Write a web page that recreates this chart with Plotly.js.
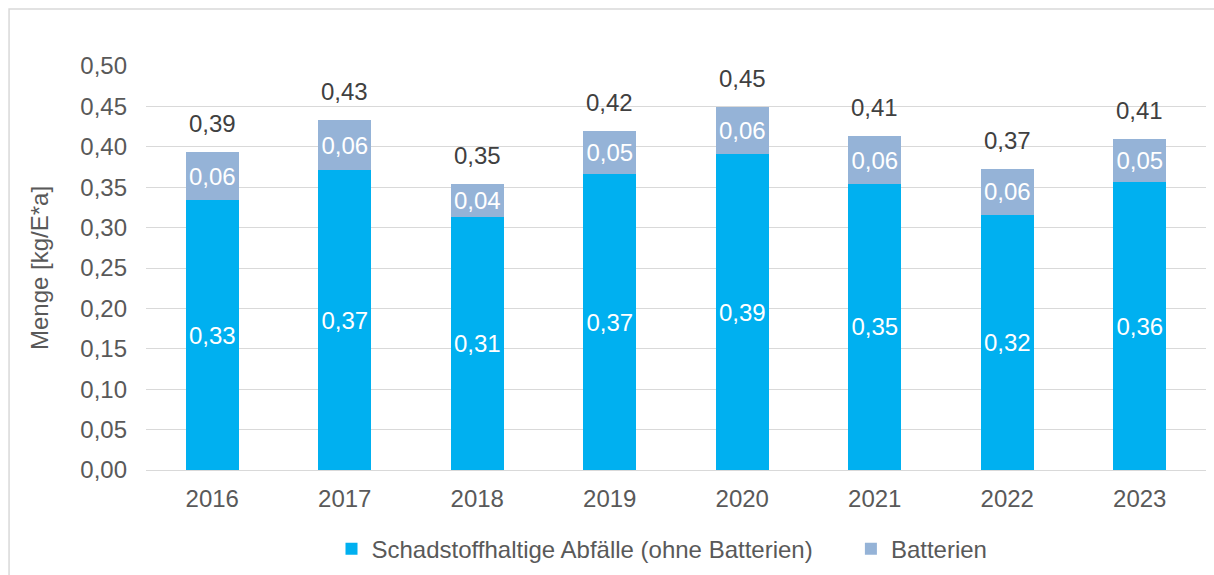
<!DOCTYPE html>
<html>
<head>
<meta charset="utf-8">
<script src="https://cdn.plot.ly/plotly-3.0.1.min.js"></script>
<style>
  html, body { margin: 0; padding: 0; background: #ffffff; }
  #chart { width: 1214px; height: 575px; }
</style>
</head>
<body>
<div id="chart"></div>
<script>
const years = ['2016', '2017', '2018', '2019', '2020', '2021', '2022', '2023'];
const schadstoffValues = [0.334, 0.371, 0.313, 0.366, 0.391, 0.354, 0.316, 0.356];
const batterienValues = [0.059, 0.062, 0.041, 0.054, 0.058, 0.059, 0.057, 0.054];
const seriesNames = ['Schadstoffhaltige Abfälle (ohne Batterien)', 'Batterien'];
const yTitle = 'Menge [kg/E*a]';

const fmt = v => v.toFixed(2).replace('.', ',');
const totals = schadstoffValues.map((v, i) => v + batterienValues[i]);

const fontFamily = 'Liberation Sans, Arial, sans-serif';
const fs = 24;

const traces = [
  {
    type: 'bar',
    name: seriesNames[0],
    x: years,
    y: schadstoffValues,
    marker: { color: '#00B0F0' },
    text: schadstoffValues.map(fmt),
    textposition: 'inside',
    insidetextanchor: 'middle',
    constraintext: 'none',
    textfont: { family: fontFamily, size: fs, color: '#FFFFFF' },
    legend: 'legend'
  },
  {
    type: 'bar',
    name: seriesNames[1],
    x: years,
    y: batterienValues,
    marker: { color: '#95B3D7' },
    text: batterienValues.map(fmt),
    textposition: 'inside',
    insidetextanchor: 'middle',
    constraintext: 'none',
    textfont: { family: fontFamily, size: fs, color: '#FFFFFF' },
    legend: 'legend2'
  }
];

// annotation x uses the category serial number (index) on the category axis
const annotations = years.map((yr, i) => ({
  x: i,
  y: totals[i],
  xref: 'x',
  yref: 'y',
  text: fmt(totals[i]),
  showarrow: false,
  yanchor: 'bottom',
  yshift: 13,
  font: { family: fontFamily, size: fs, color: '#404040' }
}));

const legendBase = {
  orientation: 'h',
  xanchor: 'left',
  y: -0.196,
  yanchor: 'middle',
  bgcolor: 'rgba(0,0,0,0)',
  font: { family: fontFamily, size: fs, color: '#595959' }
};

const layout = {
  width: 1214,
  height: 575,
  margin: { l: 146, r: 8, t: 66, b: 105, pad: 0, autoexpand: false },
  paper_bgcolor: '#FFFFFF',
  plot_bgcolor: '#FFFFFF',
  separators: ',.',
  barmode: 'stack',
  bargap: 0.6,
  font: { family: fontFamily, size: fs, color: '#595959' },
  showlegend: true,
  legend: Object.assign({}, legendBase, { x: 0.175 }),
  legend2: Object.assign({}, legendBase, { x: 0.665 }),
  xaxis: {
    type: 'category',
    showgrid: false,
    showline: true,
    linecolor: '#D9D9D9',
    linewidth: 1,
    ticks: '',
    ticklabelstandoff: 7,
    tickfont: { family: fontFamily, size: fs, color: '#595959' },
    automargin: false
  },
  yaxis: {
    range: [0, 0.5],
    dtick: 0.05,
    tick0: 0,
    tickformat: '.2f',
    showgrid: true,
    gridcolor: '#D9D9D9',
    gridwidth: 1,
    zeroline: false,
    showline: false,
    ticks: '',
    ticklabelstandoff: 18,
    tickfont: { family: fontFamily, size: fs, color: '#595959' },
    title: { text: yTitle, font: { family: fontFamily, size: fs, color: '#595959' }, standoff: 24 },
    automargin: false
  },
  shapes: [
    {
      type: 'rect',
      xref: 'paper',
      yref: 'paper',
      x0: -0.1292,
      x1: 1.2,
      y0: -0.6,
      y1: 1.141,
      line: { color: '#D9D9D9', width: 1.5 },
      fillcolor: 'rgba(0,0,0,0)',
      layer: 'below'
    }
  ],
  annotations: annotations
};

Plotly.newPlot('chart', traces, layout, { displayModeBar: false, staticPlot: true });
</script>
</body>
</html>
